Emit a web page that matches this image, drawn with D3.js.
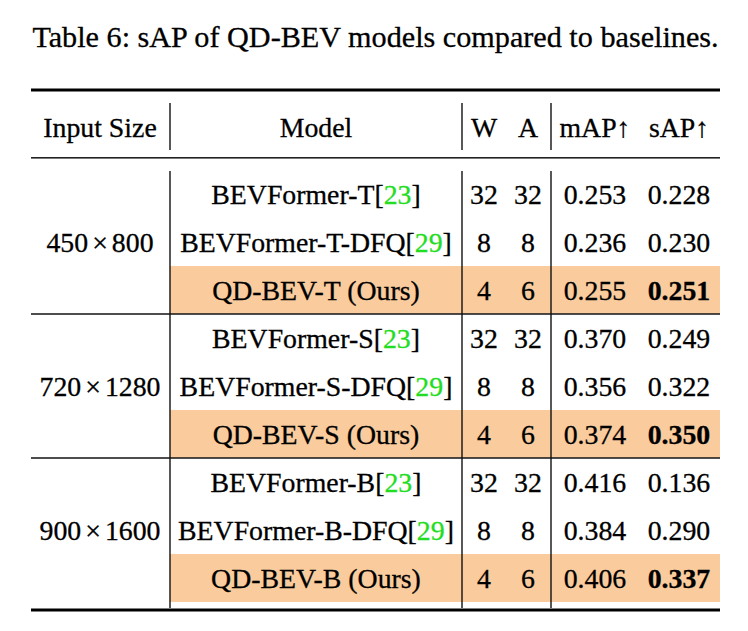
<!DOCTYPE html>
<html><head><meta charset="utf-8">
<script src="https://cdn.jsdelivr.net/npm/d3@7"></script>
<style>body{margin:0;background:#fff}svg{display:block}</style>
</head><body>
<script>
const title = "Table 6: sAP of QD-BEV models compared to baselines.";
const headers = ["Input Size","Model","W","A","mAP↑","sAP↑"];
const inputW = ["450","720","900"];
const inputH = ["800","1280","1600"];
const models = ["BEVFormer-T","BEVFormer-T-DFQ","QD-BEV-T (Ours)","BEVFormer-S","BEVFormer-S-DFQ","QD-BEV-S (Ours)","BEVFormer-B","BEVFormer-B-DFQ","QD-BEV-B (Ours)"];
const cites = ["23","29","","23","29","","23","29",""];
const wBits = [32,8,4,32,8,4,32,8,4];
const aBits = [32,8,6,32,8,6,32,8,6];
const mAP = ["0.253","0.236","0.255","0.370","0.356","0.374","0.416","0.384","0.406"];
const sAP = ["0.228","0.230","0.251","0.249","0.322","0.350","0.136","0.290","0.337"];
const ours = [false,false,true,false,false,true,false,false,true];

const W = 748, H = 631;
const FONT = "Liberation Serif";
const svg = d3.select("body").append("svg").attr("width",W).attr("height",H);
const fs = 27.8;
const colCenter = d3.scaleOrdinal().domain(headers).range([100,316,484,528,595,679]);
const rowScale = d3.scaleBand().domain(d3.range(models.length)).range([170,602]).padding(0);
const groupScale = d3.scaleBand().domain(d3.range(inputW.length)).range([170,602]);
const x0 = 31, x1 = 720, xSep = [170,462,551];

function txt(sel, size){ return sel.style("font-family",FONT).style("font-size",(size||fs)+"px")
  .attr("fill","#000").attr("stroke","#000").attr("stroke-width",0.3).attr("text-anchor","middle"); }

txt(svg.append("text"), 30.2).attr("x",375.5).attr("y",47).text(title);

// highlight rows
svg.selectAll("rect.hl").data(d3.range(models.length).filter(i=>ours[i])).join("rect")
  .attr("x",xSep[0]).attr("width",x1-xSep[0]).attr("y",i=>rowScale(i)).attr("height",rowScale.bandwidth())
  .attr("fill","#FACB9C");

// rules
svg.append("rect").attr("x",x0).attr("width",x1-x0).attr("y",88.5).attr("height",3).attr("fill","#000");
svg.append("rect").attr("x",x0).attr("width",x1-x0).attr("y",157).attr("height",1.6).attr("fill","#222");
[1,2].forEach(g=>svg.append("rect").attr("x",x0).attr("width",x1-x0).attr("y",groupScale(g)-0.8).attr("height",1.6).attr("fill","#222"));
svg.append("rect").attr("x",x0).attr("width",x1-x0).attr("y",608.5).attr("height",3).attr("fill","#000");

// vertical separators
xSep.forEach(x=>{
  svg.append("line").attr("x1",x).attr("x2",x).attr("y1",103).attr("y2",150).attr("stroke","#111").attr("stroke-width",1.4);
  svg.append("line").attr("x1",x).attr("x2",x).attr("y1",171).attr("y2",608).attr("stroke","#111").attr("stroke-width",1.4);
});

const off = 9.5;
// header
txt(svg.selectAll("text.h").data(headers).join("text").attr("class","h"))
  .attr("x",d=>colCenter(d)).attr("y",127+off).text(d=>d);

// input sizes (math-mode spacing around ×)
svg.selectAll("text.is").data(inputW).join("text").attr("class","is")
  .call(txt)
  .attr("x",colCenter("Input Size")).attr("y",(d,i)=>groupScale(i)+groupScale.bandwidth()/2+off)
  .each(function(d,i){
    const t = d3.select(this);
    t.append("tspan").text(d);
    t.append("tspan").attr("dx",4).text("×");
    t.append("tspan").attr("dx",4).text(inputH[i]);
  });

// rows
const rows = svg.selectAll("g.row").data(d3.range(models.length)).join("g").attr("class","row")
  .attr("transform",i=>`translate(0,${rowScale(i)+rowScale.bandwidth()/2+off})`);
rows.each(function(i){
  const g = d3.select(this);
  const t = txt(g.append("text")).attr("x",colCenter("Model"));
  t.append("tspan").text(models[i]);
  if (cites[i]) {
    t.append("tspan").text("[");
    t.append("tspan").attr("fill","#22DD22").attr("stroke","#22DD22").text(cites[i]);
    t.append("tspan").text("]");
  }
  txt(g.append("text")).attr("x",colCenter("W")).text(wBits[i]);
  txt(g.append("text")).attr("x",colCenter("A")).text(aBits[i]);
  txt(g.append("text")).attr("x",colCenter("mAP↑")).text(mAP[i]);
  txt(g.append("text")).attr("x",colCenter("sAP↑"))
    .style("font-weight",ours[i]?"bold":"normal").text(sAP[i]);
});
</script>
</body></html>
